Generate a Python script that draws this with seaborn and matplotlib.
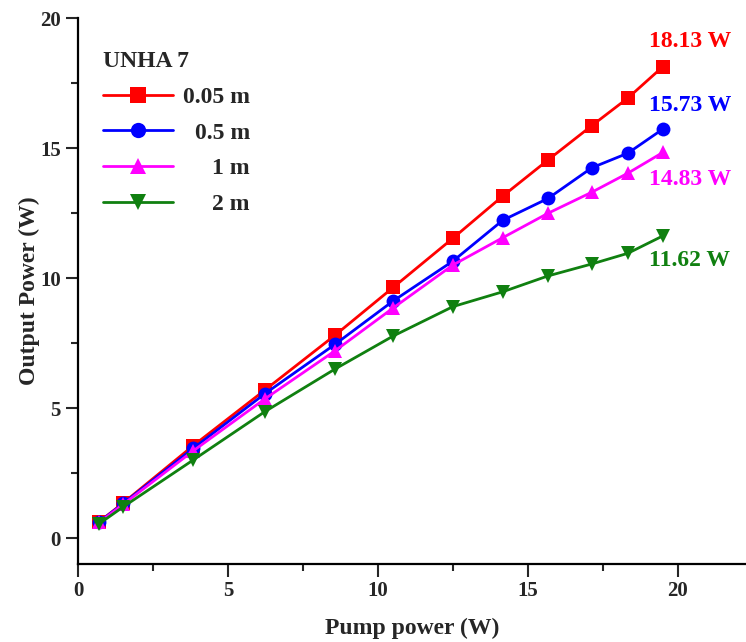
import matplotlib
matplotlib.use("Agg")
import matplotlib.pyplot as plt
import seaborn as sns
import pandas as pd
from matplotlib.ticker import MultipleLocator

pump = [0.71, 1.51, 3.84, 6.23, 8.57, 10.51, 12.5, 14.16, 15.67, 17.13, 18.33, 19.5]
p_005 = [0.63, 1.35, 3.55, 5.69, 7.8, 9.64, 11.53, 13.15, 14.54, 15.86, 16.92, 18.13]
p_05 = [0.62, 1.33, 3.45, 5.55, 7.45, 9.12, 10.65, 12.22, 13.06, 14.24, 14.8, 15.73]
p_1 = [0.6, 1.3, 3.35, 5.35, 7.2, 8.85, 10.5, 11.55, 12.49, 13.3, 14.03, 14.83]
p_2 = [0.55, 1.2, 3.0, 4.86, 6.5, 7.77, 8.9, 9.47, 10.08, 10.54, 10.95, 11.62]
series_names = ["0.05 m", "0.5 m", "1 m", "2 m"]
end_labels = ["18.13 W", "15.73 W", "14.83 W", "11.62 W"]
legend_title = "UNHA 7"

colors = ["#ff0000", "#0000ff", "#ff00ff", "#108010"]
markers = ["s", "o", "^", "v"]
label_y = [19.1, 16.65, 13.77, 10.69]

df = pd.concat([
    pd.DataFrame({"Pump": pump, "Out": vals, "Length": name})
    for name, vals in zip(series_names, [p_005, p_05, p_1, p_2])
], ignore_index=True)

sns.set_style("ticks")
plt.rcParams['font.family'] = ['Liberation Serif', 'DejaVu Serif']
plt.rcParams['font.weight'] = 'bold'
plt.rcParams['axes.labelweight'] = 'bold'

fig = plt.figure(figsize=(7.46, 6.42), dpi=100)
ax = fig.add_axes([78/746, 1-564/642, 1-78/746, (564-18)/642])

sns.lineplot(data=df, x="Pump", y="Out", hue="Length", style="Length",
             palette=dict(zip(series_names, colors)),
             markers=dict(zip(series_names, markers)),
             dashes=False, markersize=10, linewidth=2, markeredgewidth=0,
             ax=ax, legend=True)

for txt, c, yy in zip(end_labels, colors, label_y):
    ax.text(19.03, yy, txt, color=c, fontsize=17, fontweight='bold',
            ha='left', va='center')

ax.set_xlim(0, 22.27)
ax.set_ylim(-1.0, 20)
ax.xaxis.set_major_locator(MultipleLocator(5))
ax.xaxis.set_minor_locator(MultipleLocator(2.5))
ax.yaxis.set_major_locator(MultipleLocator(5))
ax.yaxis.set_minor_locator(MultipleLocator(2.5))
ax.tick_params(which='major', length=9, width=1.5, labelsize=15, direction='out')
ax.tick_params(which='minor', length=5, width=1.5, direction='out')
for lab in ax.get_xticklabels() + ax.get_yticklabels():
    lab.set_fontweight('bold')
sns.despine(ax=ax)
for s in ['left', 'bottom']:
    ax.spines[s].set_linewidth(1.6)
    ax.spines[s].set_color('black')

ax.set_xlabel("Pump power (W)", fontsize=17, fontweight='bold', labelpad=12)
ax.set_ylabel("Output Power (W)", fontsize=17, fontweight='bold', labelpad=0)

leg = ax.legend(title=legend_title, loc='upper left', bbox_to_anchor=(0.005, 0.978),
                frameon=False, fontsize=17, title_fontproperties={'weight': 'bold', 'size': 17},
                handlelength=3.0, numpoints=1, labelspacing=0.6, handletextpad=0.4)
leg._legend_box.align = "left"
for h in leg.legend_handles:
    h.set_markersize(11)
    h.set_linewidth(2)
texts = leg.get_texts()
for t in texts:
    t.set_fontweight('bold')
fig.canvas.draw()
renderer = fig.canvas.get_renderer()
widths = [t.get_window_extent(renderer).width for t in texts]
shift = max(widths)
for t, w in zip(texts, widths):
    t.set_position((shift - w, 0))

fig.savefig("out.png", dpi=100)
